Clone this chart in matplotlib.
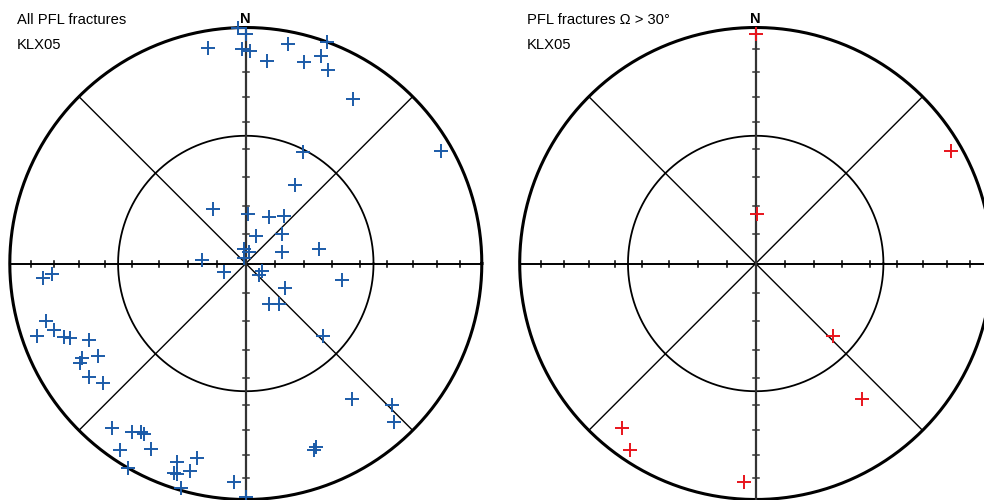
import numpy as np
import matplotlib.pyplot as plt

plt.rcParams['font.family'] = ['Liberation Sans', 'DejaVu Sans']

# poles to PFL fractures in KLX05, trend / plunge in degrees
all_trend = [358, 0, 350, 359, 1, 6, 11, 20, 20, 23, 16, 33, 60, 27, 32,
             329, 2, 26, 39, 20, 51, 352, 17, 345, 73, 79, 275, 248, 115, 130,
             122, 100, 150, 141, 133, 142, 134, 137, 159, 160, 180, 266, 267, 254, 251,
             251, 248, 247, 244, 240, 239, 238, 234, 230, 219, 214, 212, 211, 214, 207,
             210, 199, 194, 199, 198, 195, 196, 183]
all_plunge = [0, 3, 8, 10, 11, 15, 6, 0, 7, 12, 12, 18, 5, 46, 58,
              68, 73, 72, 69, 80, 74, 85, 86, 88, 77, 64, 75, 82, 84, 84,
              74, 56, 74, 72, 53, 28, 15, 9, 18, 17, 1, 15, 19, 13, 7,
              15, 18, 20, 27, 21, 19, 27, 19, 22, 11, 15, 17, 17, 5, 13,
              0, 12, 16, 7, 7, 10, 1, 8]

# fractures with Omega > 30 deg
sel_trend = [0, 60, 2, 133, 142, 219, 214, 183]
sel_plunge = [3, 5, 73, 53, 28, 11, 5, 8]

W, H = 984, 500
R = 236.0      # net radius, px
cy = 263.5


def schmidt(trend, plunge):
    # lower hemisphere equal-area projection, unit radius
    t = np.radians(np.asarray(trend, float))
    p = np.radians(np.asarray(plunge, float))
    r = np.sqrt(2) * np.sin((np.pi / 2 - p) / 2)
    return r * np.sin(t), r * np.cos(t)


def draw_net(ax):
    th = np.linspace(0, 2 * np.pi, 721)
    ax.plot(np.cos(th), np.sin(th), color='black', lw=2.2, clip_on=False)
    r45 = np.sqrt(2) * np.sin(np.radians(22.5))
    ax.plot(r45 * np.cos(th), r45 * np.sin(th), color='black', lw=1.3)
    d = np.cos(np.radians(45))
    ax.plot([-d, d], [-d, d], color='black', lw=1.0)
    ax.plot([-d, d], [d, -d], color='black', lw=1.0)
    ax.plot([-1, 1], [0, 0], color='black', lw=1.4, clip_on=False)
    ax.plot([0, 0], [-1, 1], color='#333333', lw=1.6, clip_on=False)
    ticks = np.sqrt(2) * np.sin(np.radians(np.arange(10, 90, 10)) / 2)
    h = 3.0 / R
    for s in (-1, 1):
        for t in ticks:
            ax.plot([s * t, s * t], [-h, h], color='black', lw=1.1)
            ax.plot([-h, h], [s * t, s * t], color='#333333', lw=1.1)
    ax.text(0, 1.008, 'N', ha='center', va='bottom', fontsize=10.5,
            fontweight='bold')
    ax.set_xlim(-1, 1)
    ax.set_ylim(-1, 1)
    ax.axis('off')


fig = plt.figure(figsize=(W / 100, H / 100), dpi=100)

for cx, trend, plunge, color, title in [
        (245.8, all_trend, all_plunge, '#1b5ba8', 'All PFL fractures'),
        (755.7, sel_trend, sel_plunge, '#e8141c', 'PFL fractures \u03a9 > 30\u00b0')]:
    ax = fig.add_axes([(cx - R) / W, (H - cy - R) / H, 2 * R / W, 2 * R / H])
    draw_net(ax)
    x, y = schmidt(trend, plunge)
    ax.plot(x, y, '+', color=color, ms=10.5, mew=1.4, zorder=5, clip_on=False)
    x0 = (cx - 229) / W
    fig.text(x0, 1 - 20 / H, title, ha='left', va='center', fontsize=10.6)
    fig.text(x0, 1 - 45 / H, 'KLX05', ha='left', va='center', fontsize=10.6)

fig.savefig('out.png', dpi=100)
